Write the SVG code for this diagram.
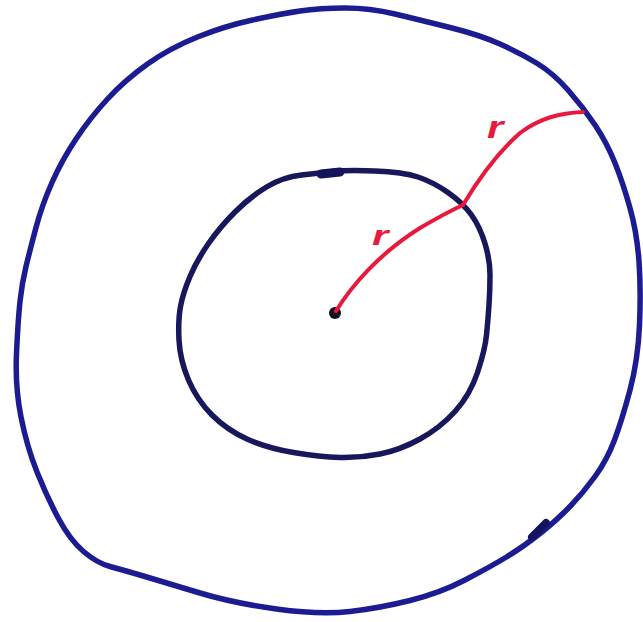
<svg xmlns="http://www.w3.org/2000/svg" width="643" height="622" viewBox="0 0 643 622">
<style>
.ring{fill:none;stroke-linecap:round;stroke-linejoin:round}
.outer{stroke:#1c1c92;stroke-width:5.5}
.inner{stroke:#17175c;stroke-width:5.5}
.blob{fill:none;stroke-linecap:round}
.radius{fill:none;stroke:#e8193c;stroke-width:4;stroke-linecap:round}
.lbl{font-family:"Liberation Sans",Arial,sans-serif;font-style:italic;font-weight:bold;font-size:28px;fill:#e8193c}
</style>
<rect width="643" height="622" fill="#ffffff"/>
<g id="outer-circle">
<path class="ring outer" d="M300,11 Q320,8 345,8 Q370,8 395,14 Q420,20 450,27.5 Q480,35 500,44 Q520,53 536.5,63 Q553,73 568,90 Q583,107 595,125 Q607,143 615,163 Q623,183 630,208 Q637,233 639,261.5 Q641,290 639.5,325 Q638,360 630,390 Q622,420 614.5,440 Q607,460 595,476.5 Q583,493 570,506.5 Q557,520 540,533.5 Q523,547 506.5,557 Q490,567 465,580 Q440,593 410,600.5 Q380,608 350,611.5 Q320,615 276.5,609 Q233,603 200,593 Q167,583 145,576.5 Q123,570 110,566.5 Q97,563 83.5,551.5 Q70,540 58.5,518.5 Q47,497 37,472 Q27,447 21,417 Q15,387 16.5,353.5 Q18,320 20,301.5 Q22,283 26,266.5 Q30,250 36,227.5 Q42,205 52,182.5 Q62,160 76,139 Q90,118 107.5,99 Q125,80 147.5,64 Q170,48 197.5,37 Q225,26 252.5,20 Q280,14 300,11 Z"/>
<path class="blob" d="M532,537 L546,523" stroke="#14145e" stroke-width="8"/>
</g>
<g id="inner-circle">
<path class="ring inner" d="M301.5,175 Q320,173 333.5,171.5 Q347,170 375,171 Q403,172 418,177 Q433,182 448,192.5 Q463,203 471.5,215 Q480,227 485,243.5 Q490,260 490,275 Q490,290 489,305 Q488,320 486.5,335 Q485,350 477.5,372.5 Q470,395 455,411.5 Q440,428 420,439 Q400,450 380,454 Q360,458 340,457.5 Q320,457 293.5,452.5 Q267,448 247,439 Q227,430 212,415 Q197,400 188.5,380 Q180,360 179,340 Q178,320 180.5,306.5 Q183,293 190,276.5 Q197,260 208.5,243.5 Q220,227 235,212 Q250,197 266.5,187 Q283,177 301.5,175 Z"/>
<path class="blob" d="M321,174 L340,172" stroke="#14145a" stroke-width="9"/>
</g>
<g id="center">
<circle cx="335" cy="313" r="6" fill="#10101e"/>
</g>
<g id="connectors">
<path class="radius" d="M336,311 C352,285 380,253 420,228 C437,218 450,211 463,205"/>
<path class="radius" d="M463,205 C478,180 495,155 520,133 C540,118 560,113 583,112"/>
</g>
<g id="labels">
<text class="lbl" transform="translate(372,245) scale(1.5,1)" x="0" y="0">r</text>
<text class="lbl" transform="translate(487,138) scale(1.5,1.1)" x="0" y="0">r</text>
</g>
</svg>
